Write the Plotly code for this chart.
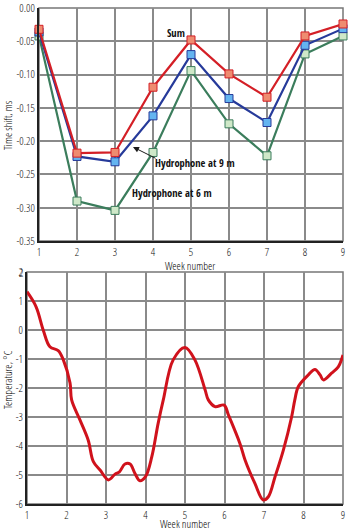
import plotly.graph_objects as go

weeks = [1, 2, 3, 4, 5, 6, 7, 8, 9]
sum_ms = [-0.032, -0.218, -0.217, -0.119, -0.048, -0.099, -0.134, -0.042, -0.024]
h9_ms = [-0.036, -0.223, -0.231, -0.162, -0.070, -0.136, -0.172, -0.056, -0.031]
h6_ms = [-0.042, -0.290, -0.304, -0.217, -0.094, -0.174, -0.222, -0.069, -0.042]

temp_week = [1.0, 1.23, 1.41, 1.58, 1.79, 1.92, 2.09, 2.13, 2.34, 2.55, 2.68, 2.85, 3.06,
             3.23, 3.34, 3.48, 3.61, 3.73, 3.86, 4.0, 4.16, 4.32, 4.45, 4.70, 5.0, 5.25,
             5.51, 5.59, 5.76, 5.99, 6.10, 6.39, 6.52, 6.77, 6.98, 7.11, 7.28, 7.49, 7.70,
             7.78, 7.87, 8.12, 8.29, 8.42, 8.5, 8.71, 8.88, 9.0]
temp_c = [1.32, 0.80, 0.0, -0.58, -0.71, -1.03, -1.83, -2.41, -3.1, -3.8, -4.54, -4.83, -5.17,
          -4.97, -4.89, -4.62, -4.62, -4.94, -5.2, -5.06, -4.37, -3.22, -2.41, -1.03, -0.6, -1.03,
          -2.07, -2.41, -2.64, -2.59, -2.93, -3.91, -4.48, -5.29, -5.86, -5.75, -5.06, -4.14, -2.99,
          -2.41, -1.95, -1.55, -1.36, -1.55, -1.72, -1.49, -1.27, -0.86]

top_yticks = [0, -0.05, -0.10, -0.15, -0.20, -0.25, -0.30, -0.35]
top_yticklabels = ["0.00", "-0.05", "-0.10", "-0.15", "-0.20", "-0.25", "-0.30", "-0.35"]
bot_yticks = [2, 1, 0, -1, -2, -3, -4, -5, -6]
bot_yticklabels = ["2", "1", "0", "-1", "-2", "-3", "-4", "-5", "-6"]

W, H = 350, 531
LIGHT = "Open Sans Condensed Light, Roboto Condensed, sans-serif"
BOLD = "Open Sans Condensed, sans-serif"

def px_x(p):
    return p / W

def px_y(p):
    return 1 - p / H

fig = go.Figure()

series = [
    ("Hydrophone at 6 m", h6_ms, "#3b7d5c", "#cfe8c8"),
    ("Hydrophone at 9 m", h9_ms, "#263a9a", "#64b4f0"),
    ("Sum", sum_ms, "#d41f26", "#ee8c70"),
]
for name, vals, lc, mc in series:
    fig.add_trace(go.Scatter(
        x=weeks, y=vals, mode="lines+markers", name=name,
        line=dict(color=lc, width=2.2),
        marker=dict(symbol="square", size=8, color=mc, line=dict(color=lc, width=1)),
        xaxis="x", yaxis="y", cliponaxis=False,
    ))

fig.add_trace(go.Scatter(
    x=temp_week, y=temp_c, mode="lines", name="Temperature",
    line=dict(color="#d0121c", width=3, shape="spline", smoothing=1.0),
    xaxis="x2", yaxis="y2",
))

grid = "#8a8a8a"
tickfont = dict(family=LIGHT, size=11, color="#111111")
common_ax = dict(showgrid=True, gridcolor=grid, gridwidth=1.5, zeroline=False,
                 showline=True, linecolor="#222222", linewidth=2, ticks="",
                 ticklabeloverflow="allow", tickfont=tickfont, automargin=False,
                 fixedrange=True)

# the topmost label of the lower y axis is drawn as an annotation (plotly drops it)
fig.update_layout(
    width=W, height=H,
    margin=dict(l=0, r=0, t=0, b=0),
    paper_bgcolor="white", plot_bgcolor="white",
    showlegend=False,
    xaxis=dict(domain=[px_x(39), px_x(343)], range=[1, 9], tickvals=weeks,
               anchor="y", **common_ax),
    yaxis=dict(domain=[px_y(241), px_y(8)], range=[-0.35, 0], tickvals=top_yticks,
               ticktext=top_yticklabels, anchor="x", **common_ax),
    xaxis2=dict(domain=[px_x(27), px_x(343)], range=[1, 9], tickvals=weeks,
                anchor="y2", **common_ax),
    yaxis2=dict(domain=[px_y(504), px_y(272)], range=[-6, 2], tickvals=bot_yticks,
                ticktext=bot_yticklabels, anchor="x2", **common_ax),
)

for xr, yr in [("x", "y"), ("x2", "y2")]:
    fig.add_shape(type="rect", xref=xr + " domain", yref=yr + " domain",
                  x0=0, x1=1, y0=0, y1=1, line=dict(color="#777777", width=1.5),
                  layer="below")

lab = dict(family=LIGHT, size=11, color="#000000")
bold = dict(family=BOLD, size=10.5, color="#111111")

def note(text, x, y, font, **kw):
    return dict(text=text, x=px_x(x), y=px_y(y), xref="paper", yref="paper",
                xanchor="center", yanchor="middle", showarrow=False, font=font, **kw)

annotations = [
    note("Time shift, ms", 7, 125, lab, textangle=-90),
    note("Week number", 190, 265, lab),
    note("Temperature, °C", 7, 380, lab, textangle=-90),
    note("Week number", 185, 523.5, lab),
    note("Sum", 176, 33, bold),
    note("Hydrophone at 9 m", 195, 163, bold),
    note("Hydrophone at 6 m", 172, 193, bold),
    dict(text="", x=px_x(133), y=px_y(147), xref="paper", yref="paper",
         showarrow=True, ax=24, ay=12, arrowhead=2, arrowsize=1.2, arrowwidth=1,
         arrowcolor="#1a1a1a"),
    dict(text=bot_yticklabels[0], x=0, y=bot_yticks[0], xref="x2 domain", yref="y2",
         xanchor="right", yanchor="middle", xshift=-2, showarrow=False, font=tickfont),
]
fig.update_layout(annotations=annotations)

fig.write_html("out.html")
